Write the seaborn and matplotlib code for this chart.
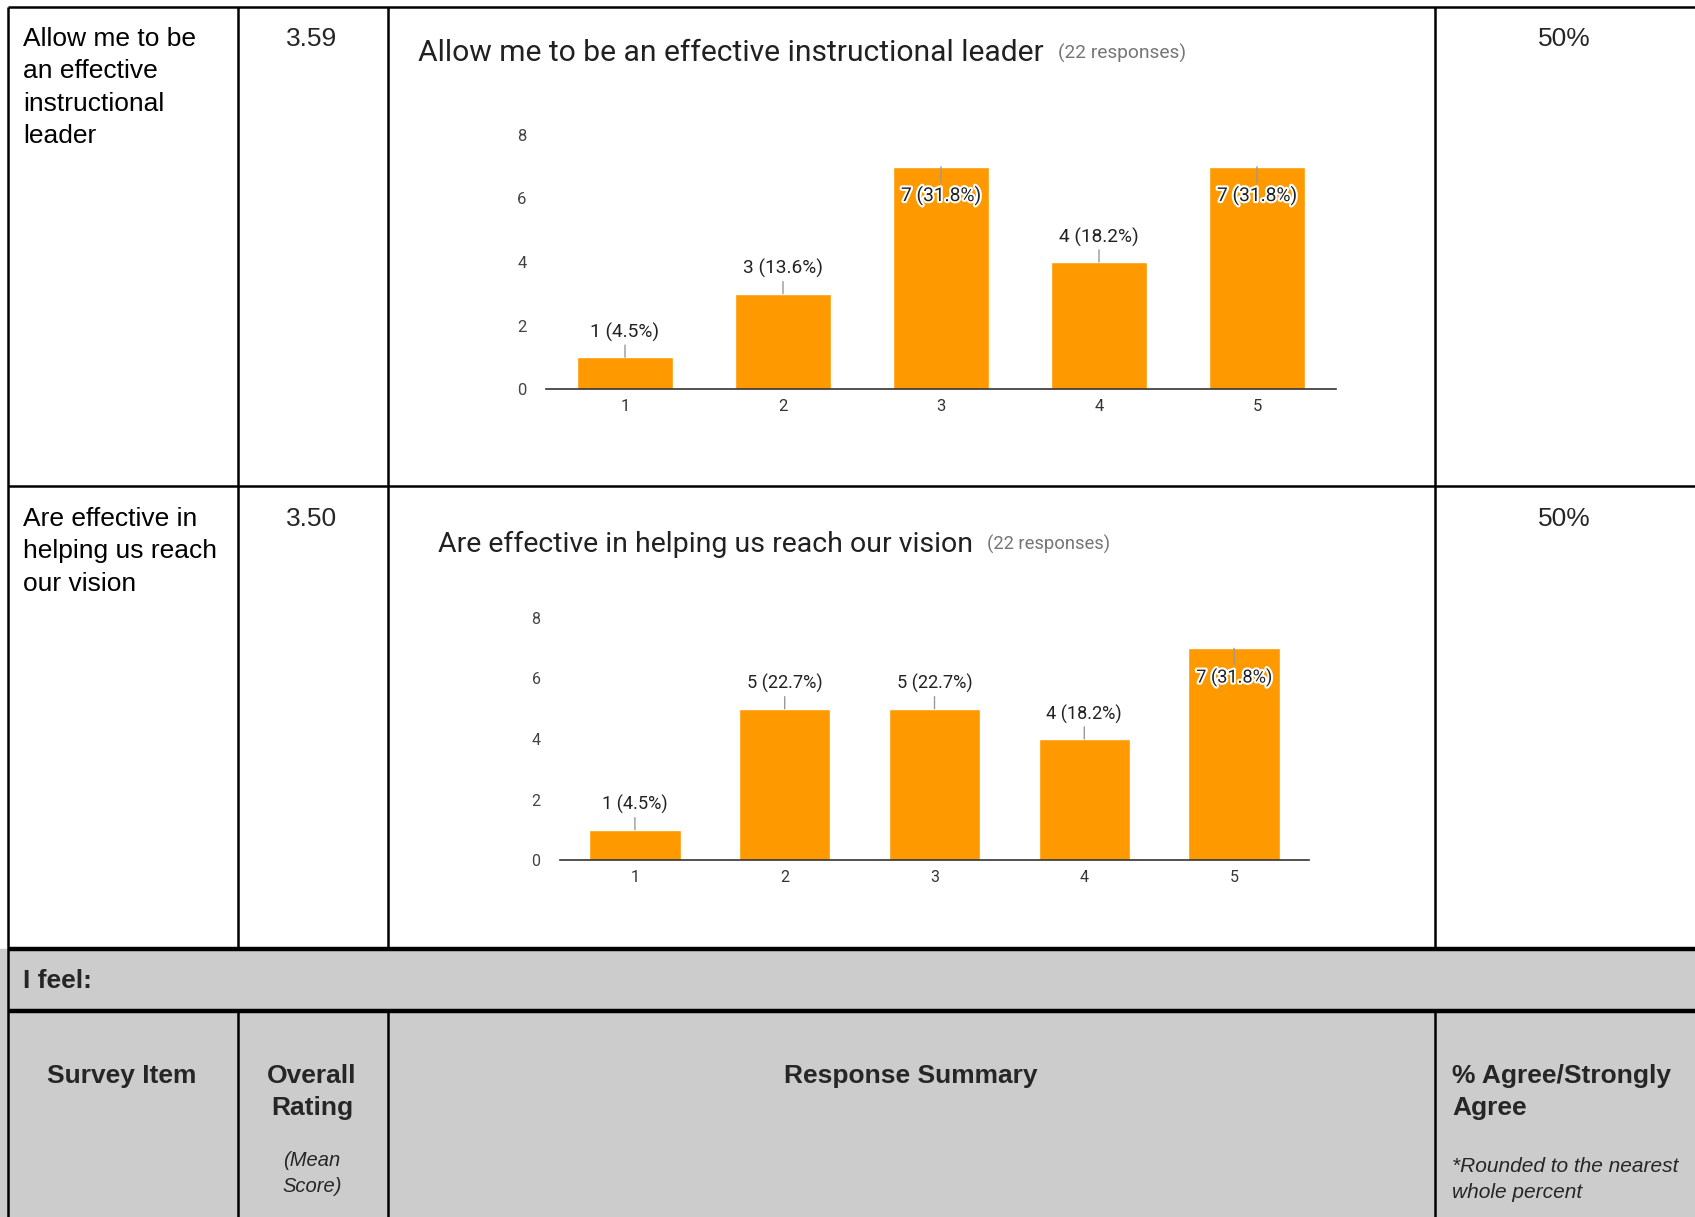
import matplotlib.pyplot as plt
import matplotlib.patheffects as pe
import pandas as pd
import seaborn as sns

W, H = 1695, 1217

# survey data
ratings = ['1', '2', '3', '4', '5']
leader_counts = [1, 3, 7, 4, 7]
leader_pcts = ['4.5%', '13.6%', '31.8%', '18.2%', '31.8%']
vision_counts = [1, 5, 5, 4, 7]
vision_pcts = ['4.5%', '22.7%', '22.7%', '18.2%', '31.8%']

item_lines = [['Allow me to be', 'an effective', 'instructional', 'leader'],
              ['Are effective in', 'helping us reach', 'our vision']]
chart_titles = ['Allow me to be an effective instructional leader',
                'Are effective in helping us reach our vision']
mean_scores = ['3.59', '3.50']
agree_pcts = ['50%', '50%']
n_responses = 22

ORANGE = '#ff9900'

sns.set_theme(style='white')
plt.rcParams['font.family'] = ['Liberation Sans', 'DejaVu Sans']

fig = plt.figure(figsize=(W / 100, H / 100), dpi=100)
fig.patch.set_facecolor('white')

# table background axes in pixel coords
bg = fig.add_axes([0, 0, 1, 1], zorder=0)
bg.set_xlim(0, W)
bg.set_ylim(H, 0)
bg.axis('off')

bg.axhspan(949, H, color='#cccccc', zorder=0)
LW = 1.8
bg.hlines([7, 486], 8, W, color='black', lw=LW)
bg.hlines([949, 1011], 8, W, color='black', lw=3.2)
bg.vlines(8, 7, H, color='black', lw=LW)
for x in [238, 388, 1435]:
    bg.vlines(x, 7, 949, color='black', lw=LW)
    bg.vlines(x, 1011, H, color='black', lw=LW)

BODY = 19
row_tops = [39, 519]
for r in range(2):
    for k, line in enumerate(item_lines[r]):
        bg.text(23, row_tops[r] + k * 32.4, line, fontsize=BODY, va='center', ha='left', color='black')
    bg.text(312, row_tops[r], mean_scores[r], fontsize=BODY, va='center', ha='center')
    bg.text(1564, row_tops[r], agree_pcts[r], fontsize=BODY, va='center', ha='center')

# gray section
bg.text(23, 981, 'I feel:', fontsize=BODY, fontweight='bold', va='center')
bg.text(122, 1076, 'Survey Item', fontsize=BODY, fontweight='bold', va='center', ha='center')
bg.text(312, 1076, 'Overall', fontsize=BODY, fontweight='bold', va='center', ha='center')
bg.text(312, 1108, 'Rating', fontsize=BODY, fontweight='bold', va='center', ha='center')
bg.text(312, 1161, '(Mean', fontsize=14.5, style='italic', va='center', ha='center')
bg.text(312, 1187, 'Score)', fontsize=14.5, style='italic', va='center', ha='center')
bg.text(911, 1076, 'Response Summary', fontsize=BODY, fontweight='bold', va='center', ha='center')
bg.text(1452, 1076, '% Agree/Strongly', fontsize=BODY, fontweight='bold', va='center')
bg.text(1452, 1108, 'Agree', fontsize=BODY, fontweight='bold', va='center')
bg.text(1452, 1166, '*Rounded to the nearest', fontsize=15, style='italic', va='center')
bg.text(1452, 1193, 'whole percent', fontsize=15, style='italic', va='center')


def draw_chart(ax, counts, pcts, label_size, tick_size):
    df = pd.DataFrame({'rating': ratings, 'count': counts})
    sns.barplot(data=df, x='rating', y='count', color=ORANGE, saturation=1,
                width=0.61, ax=ax)
    ax.set_facecolor('none')
    ax.set_xlim(-0.5, 4.5)
    ax.set_ylim(0, 8)
    ax.set_yticks([0, 2, 4, 6, 8])
    ax.set_xlabel('')
    ax.set_ylabel('')
    for s in ['top', 'right', 'left']:
        ax.spines[s].set_visible(False)
    ax.spines['bottom'].set_color('#333333')
    ax.spines['bottom'].set_linewidth(1.2)
    ax.tick_params(axis='y', length=0, pad=14, labelsize=tick_size, labelcolor='#444444',
                   labelfontfamily='Roboto')
    ax.tick_params(axis='x', length=0, pad=7, labelsize=tick_size, labelcolor='#333333',
                   labelfontfamily='Roboto')
    for i, (c, p) in enumerate(zip(counts, pcts)):
        inside = c > 6
        off = -29 if inside else 25
        fx = [pe.withStroke(linewidth=3, foreground='white')] if inside else None
        ax.annotate(f'{c} ({p})', xy=(i, c), xytext=(0, off), textcoords='offset pixels',
                    ha='center', va='center', fontsize=label_size, color='#222222',
                    family='Roboto', path_effects=fx,
                    arrowprops=dict(arrowstyle='-', color='#999999', lw=1,
                                    shrinkA=0, shrinkB=0))


def add_axes_px(left, right, top, bottom):
    return fig.add_axes([left / W, 1 - bottom / H, (right - left) / W, (bottom - top) / H], zorder=2)


ax1 = add_axes_px(546, 1336, 135, 389)
draw_chart(ax1, leader_counts, leader_pcts, 13.8, 12)
ax2 = add_axes_px(560, 1309, 618, 860)
draw_chart(ax2, vision_counts, vision_pcts, 13.1, 11.5)

# chart titles
title_pos = [(418, 53), (438, 544)]
title_sizes = [21.6, 20.5]
resp_sizes = [13.8, 13.2]
for (tx, ty), title, ts, rs in zip(title_pos, chart_titles, title_sizes, resp_sizes):
    t = bg.text(tx, ty, title, fontsize=ts, family='Roboto', color='#212121', va='center')
    bg.annotate(f'({n_responses} responses)', xy=(1, 0.5), xycoords=t, xytext=(14, 0),
                textcoords='offset pixels', va='center', ha='left', fontsize=rs,
                family='Roboto', color='#757575')

fig.savefig('out.png', dpi=100)
